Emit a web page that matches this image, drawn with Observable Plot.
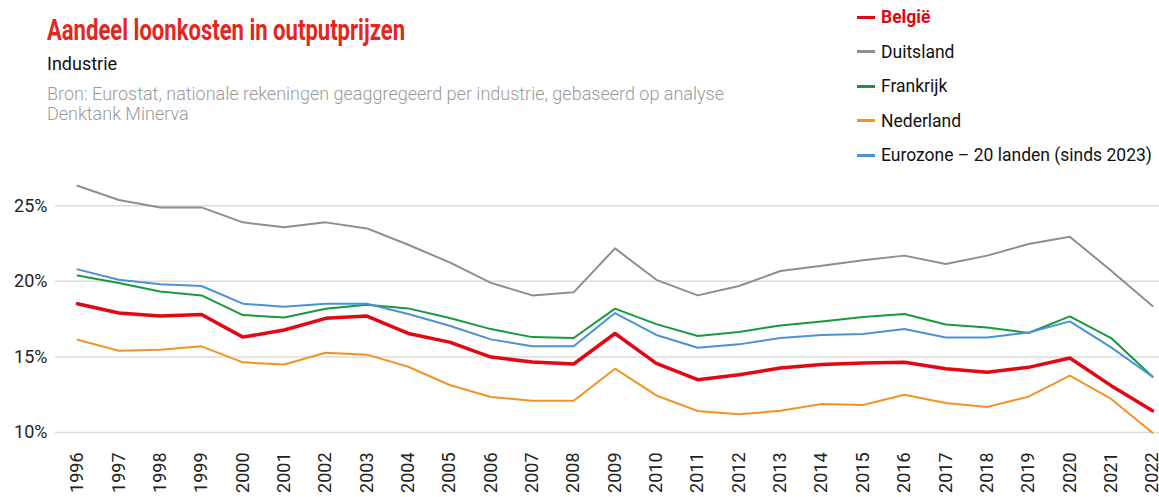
<!DOCTYPE html>
<html>
<head>
<meta charset="utf-8">
<script src="https://cdn.jsdelivr.net/npm/d3@7"></script>
<script src="https://cdn.jsdelivr.net/npm/@observablehq/plot@0.6"></script>
<style>
  html, body { margin: 0; padding: 0; background: #fff; }
  body { width: 1159px; height: 497px; overflow: hidden; font-family: Roboto, "Noto Sans", sans-serif; }
  #header { position: relative; height: 165px; }
  #title { position: absolute; left: 47px; top: 13px; font-family: Roboto, sans-serif; font-weight: bold; font-size: 29px; color: #e3261e; white-space: nowrap; transform-origin: 0 0; }
  #subtitle { position: absolute; left: 47px; top: 53px; font-size: 18px; color: #111; }
  #source { position: absolute; left: 47px; top: 84px; font-size: 18px; line-height: 20px; color: #9a9a9a; width: 730px; font-weight: 300; }
  #legend { position: absolute; left: 857px; top: 0; }
  .lg { position: absolute; left: 0; height: 20px; display: flex; align-items: center; white-space: nowrap; font-size: 17.5px; color: #111; }
  .sw { width: 18px; height: 3px; margin-right: 6px; }
</style>
</head>
<body>
<div id="header">
  <div id="title"></div>
  <div id="subtitle"></div>
  <div id="source"></div>
  <div id="legend"></div>
</div>
<div id="chart"></div>
<script>
const titleText = "Aandeel loonkosten in outputprijzen";
const subtitleText = "Industrie";
const sourceText = "Bron: Eurostat, nationale rekeningen geaggregeerd per industrie, gebaseerd op analyse Denktank Minerva";

const years = [1996,1997,1998,1999,2000,2001,2002,2003,2004,2005,2006,2007,2008,2009,2010,2011,2012,2013,2014,2015,2016,2017,2018,2019,2020,2021,2022];

const seriesNames = ["België", "Duitsland", "Frankrijk", "Nederland", "Eurozone – 20 landen (sinds 2023)"];
const seriesColors = ["#e30613", "#8e8e8e", "#179a3c", "#f39323", "#4a92d3"];

const belgie    = [18.52,17.90,17.70,17.81,16.31,16.78,17.55,17.70,16.55,15.98,14.99,14.66,14.53,16.55,14.57,13.49,13.82,14.26,14.50,14.59,14.64,14.22,13.98,14.31,14.93,13.10,11.44];
const duitsland = [26.32,25.38,24.89,24.89,23.90,23.57,23.90,23.50,22.42,21.25,19.90,19.07,19.27,22.18,20.10,19.07,19.69,20.68,21.03,21.40,21.70,21.14,21.70,22.47,22.95,20.70,18.37];
const frankrijk = [20.39,19.89,19.33,19.07,17.77,17.61,18.19,18.45,18.21,17.57,16.84,16.31,16.25,18.19,17.17,16.38,16.65,17.08,17.35,17.64,17.84,17.15,16.95,16.58,17.68,16.25,13.69];
const nederland = [16.14,15.41,15.48,15.70,14.64,14.50,15.28,15.15,14.35,13.14,12.35,12.10,12.10,14.22,12.45,11.42,11.20,11.44,11.88,11.82,12.50,11.95,11.69,12.37,13.76,12.22,9.98];
const eurozone  = [20.79,20.10,19.80,19.69,18.52,18.32,18.52,18.52,17.84,17.06,16.16,15.70,15.70,17.90,16.45,15.61,15.83,16.25,16.45,16.51,16.84,16.29,16.29,16.62,17.35,15.63,13.69];

const yTicks = [10, 15, 20, 25];

const seriesValues = [belgie, duitsland, frankrijk, nederland, eurozone];
const data = [];
seriesNames.forEach((name, i) => {
  years.forEach((yr, j) => data.push({series: name, year: yr, value: seriesValues[i][j]}));
});

const titleEl = document.getElementById("title");
titleEl.textContent = titleText;
const tw = titleEl.getBoundingClientRect().width;
titleEl.style.transform = "scaleX(" + (358 / tw) + ")";
document.getElementById("subtitle").textContent = subtitleText;
document.getElementById("source").textContent = sourceText;

const legend = document.getElementById("legend");
seriesNames.forEach((name, i) => {
  const row = document.createElement("div");
  row.className = "lg";
  row.style.top = (7 + i * 34.6) + "px";
  const sw = document.createElement("div");
  sw.className = "sw";
  sw.style.background = seriesColors[i];
  const lab = document.createElement("span");
  lab.textContent = name;
  if (i === 0) { lab.style.color = seriesColors[0]; lab.style.fontWeight = "bold"; }
  row.appendChild(sw); row.appendChild(lab);
  legend.appendChild(row);
});

// draw thin lines first, België on top
const order = [1, 2, 3, 4, 0];

const chart = Plot.plot({
  width: 1159,
  height: 332,
  marginTop: 10,
  marginBottom: 65,
  marginLeft: 77,
  marginRight: 7,
  style: { fontFamily: "Roboto, 'Noto Sans', sans-serif", fontSize: "17px", color: "#222", background: "#fff" },
  x: { domain: [years[0], years[years.length - 1]], type: "linear" },
  y: { domain: [10, 27] },
  marks: [
    Plot.ruleY(yTicks, { stroke: "#dcdcdc", strokeWidth: 1.5, insetLeft: -22, insetRight: -7 }),
    Plot.axisY(yTicks, { tickSize: 0, tickPadding: 30, tickFormat: d => d + "%", fontSize: 18, fill: "#222", label: null }),
    Plot.axisX(years, { tickSize: 0, tickPadding: 20, tickRotate: -90, tickFormat: d => String(d), fontSize: 18, fill: "#222", label: null }),
    ...order.map(i => Plot.line(data.filter(d => d.series === seriesNames[i]), {
      x: "year", y: "value",
      stroke: seriesColors[i],
      strokeWidth: i === 0 ? 3.5 : 2,
      curve: "linear"
    }))
  ]
});
document.getElementById("chart").appendChild(chart);
</script>
</body>
</html>
